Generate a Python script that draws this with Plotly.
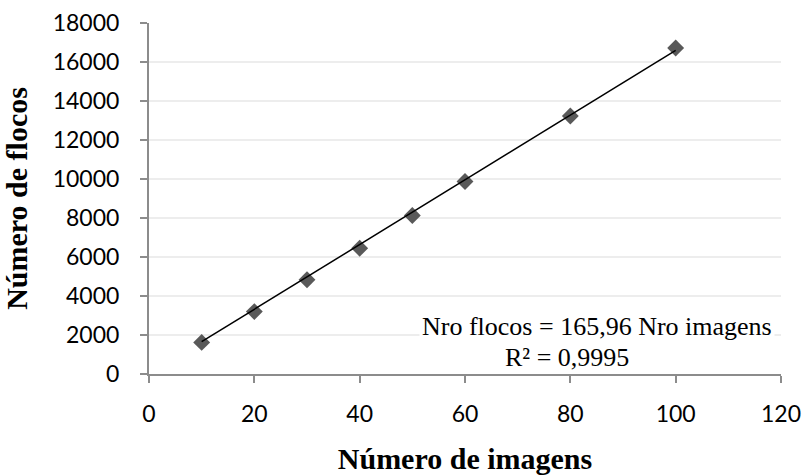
import plotly.graph_objects as go

# Data
n_imagens = [10, 20, 30, 40, 50, 60, 80, 100]
n_flocos = [1620, 3200, 4830, 6450, 8130, 9870, 13230, 16720]
slope = 165.96
r2 = 0.9995
x_ticks = [0, 20, 40, 60, 80, 100, 120]
y_ticks = [0, 2000, 4000, 6000, 8000, 10000, 12000, 14000, 16000, 18000]

trend_x = [min(n_imagens), max(n_imagens)]
trend_y = [slope * v for v in trend_x]

fig = go.Figure()
fig.add_trace(go.Scatter(
    x=n_imagens, y=n_flocos, mode="markers",
    marker=dict(symbol="diamond", size=13, color="#595959", line=dict(width=0)),
    showlegend=False, cliponaxis=False,
))
fig.add_trace(go.Scatter(
    x=trend_x, y=trend_y, mode="lines",
    line=dict(color="black", width=1.5),
    showlegend=False,
))

tick_font = dict(family="Lato, Open Sans, sans-serif", size=23, color="black")
title_font = dict(family="Liberation Serif, Times New Roman, serif", size=30, color="black")
ann_font = dict(family="Liberation Serif, Times New Roman, serif", size=26, color="black")

fig.update_layout(
    width=804, height=475,
    margin=dict(l=149, r=23, t=23, b=101),
    paper_bgcolor="white", plot_bgcolor="white",
    xaxis=dict(
        range=[0, 120], tickvals=x_ticks, tickformat="d", tickfont=tick_font,
        showgrid=False, zeroline=False, automargin=False,
        showline=True, linecolor="#8c8c8c", linewidth=2,
        ticks="outside", ticklen=7, tickcolor="#8c8c8c", tickwidth=2,
        ticklabelstandoff=11,
        title=dict(text="<b>Número de imagens</b>", font=title_font, standoff=24),
    ),
    yaxis=dict(
        range=[0, 18000], tickvals=y_ticks, tickformat="d", tickfont=tick_font,
        showgrid=True, gridcolor="#ededed", gridwidth=2, zeroline=False, automargin=False,
        showline=True, linecolor="#8c8c8c", linewidth=2,
        ticks="outside", ticklen=7, tickcolor="#8c8c8c", tickwidth=2,
        ticklabelstandoff=16,
        title=dict(text="<b>Número de flocos</b>", font=title_font, standoff=18),
    ),
    annotations=[
        dict(x=118.8, y=2430, xref="x", yref="y", xanchor="right", yanchor="middle",
             text=f"Nro flocos = {str(slope).replace('.', ',')} Nro imagens",
             showarrow=False, bgcolor="white", borderpad=2,
             font=ann_font),
        dict(x=79.4, y=840, xref="x", yref="y", xanchor="center", yanchor="middle",
             text=f"R² = {str(r2).replace('.', ',')}",
             showarrow=False, font=ann_font),
    ],
)

fig.write_html("out.html")
